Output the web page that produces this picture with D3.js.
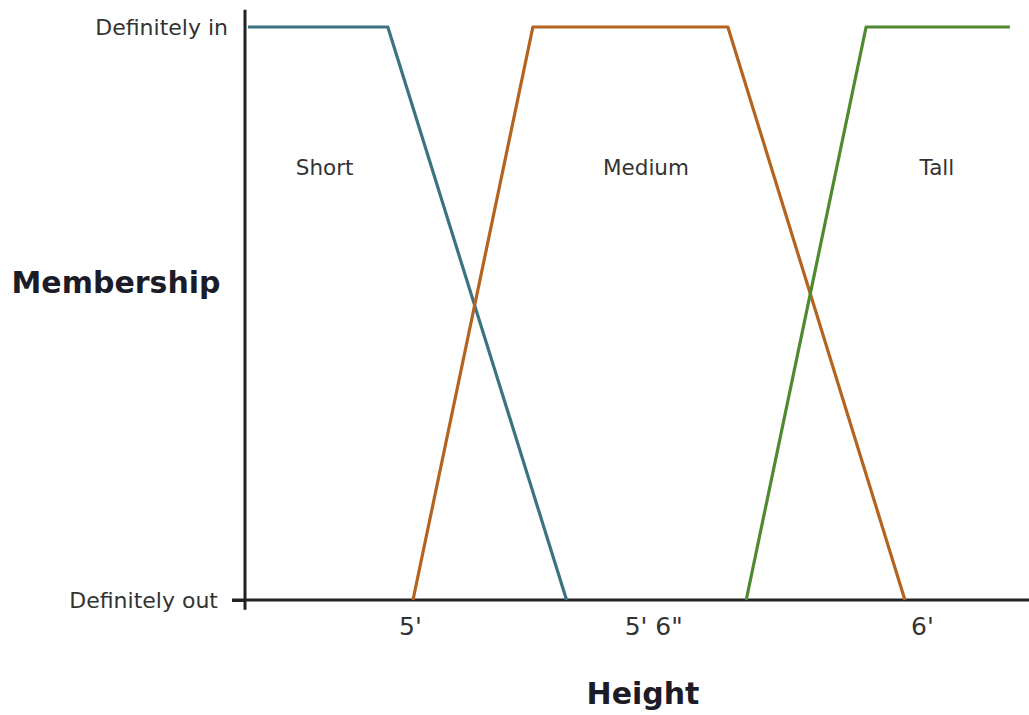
<!DOCTYPE html>
<html><head><meta charset="utf-8">
<script src="https://cdn.jsdelivr.net/npm/d3@7"></script>
<style>
html,body{margin:0;padding:0;background:#fff;}
svg{display:block;}
text{font-family:"DejaVu Sans",Verdana,sans-serif;}
</style></head>
<body>
<svg id="chart" width="1029" height="715"></svg>
<script>
// Heights in inches, membership 0..1
const shortX = [56.2, 59.48, 63.67];
const shortY = [1, 1, 0];
const mediumX = [60.07, 62.88, 67.45, 71.6];
const mediumY = [0, 1, 1, 0];
const tallX = [67.88, 70.69, 74.06];
const tallY = [0, 1, 1];
const seriesNames = ["Short", "Medium", "Tall"];
const seriesLabelX = [58.0, 65.53, 72.35];
const seriesLabelY = [0.742, 0.742, 0.742];
const xTickValues = [60, 65.7, 72];
const xTickLabels = ["5'", "5' 6\"", "6'"];
const yTickValues = [0, 1];
const yTickLabels = ["Definitely out", "Definitely in"];
const colors = ["#3b7480", "#b4641f", "#4f8a30"];

const svg = d3.select("#chart");
const x = d3.scaleLinear().domain([60, 72]).range([410, 922]);
const y = d3.scaleLinear().domain([0, 1]).range([600, 27]);

const axisColor = "#222";
// x axis
const xAxis = svg.append("g").attr("transform", `translate(0,${y(0)})`)
  .call(d3.axisBottom(x).tickValues(xTickValues).tickFormat((d,i)=>xTickLabels[i]).tickSize(0).tickPadding(17));
xAxis.select(".domain").remove();
xAxis.selectAll("text").attr("font-size", 25).attr("fill", "#333").attr("font-family", "DejaVu Sans, sans-serif");
svg.append("line").attr("x1", 232).attr("x2", 1029)
  .attr("y1", y(0)).attr("y2", y(0)).attr("stroke", axisColor).attr("stroke-width", 3);

// y axis
const yAxis = svg.append("g").attr("transform", `translate(245,0)`)
  .call(d3.axisLeft(y).tickValues(yTickValues).tickFormat((d,i)=>yTickLabels[i]).tickSize(13).tickPadding(14));
yAxis.select(".domain").remove();
yAxis.selectAll(".tick line").attr("stroke", axisColor).attr("stroke-width", 3)
  .attr("display", d => d === 1 ? "none" : null);
yAxis.selectAll("text").attr("font-size", 22).attr("fill", "#333").attr("font-family", "DejaVu Sans, sans-serif")
  .attr("x", d => d === 1 ? -17 : -27);
svg.append("line").attr("x1", 245).attr("x2", 245)
  .attr("y1", y(1.03)).attr("y2", y(-0.017)).attr("stroke", axisColor).attr("stroke-width", 3);

// series
const series = [
  {xs: shortX, ys: shortY},
  {xs: mediumX, ys: mediumY},
  {xs: tallX, ys: tallY}
];
const line = d3.line().x(d=>x(d[0])).y(d=>y(d[1]));
series.forEach((s, i) => {
  const pts = s.xs.map((v, j) => [v, s.ys[j]]);
  svg.append("path").attr("d", line(pts)).attr("fill", "none")
    .attr("stroke", colors[i]).attr("stroke-width", 3.2)
    .attr("stroke-linejoin", "round");
  svg.append("text").attr("x", x(seriesLabelX[i])).attr("y", y(seriesLabelY[i]))
    .attr("text-anchor", "middle").attr("font-size", 21.5).attr("fill", "#333")
    .text(seriesNames[i]);
});

// axis titles
svg.append("text").attr("x", 116).attr("y", 293).attr("text-anchor", "middle")
  .attr("font-size", 30).attr("font-weight", "bold").attr("fill", "#1c1c28").text("Membership");
svg.append("text").attr("x", 643).attr("y", 704).attr("text-anchor", "middle")
  .attr("font-size", 30).attr("font-weight", "bold").attr("fill", "#1c1c28").text("Height");
</script>
</body></html>
